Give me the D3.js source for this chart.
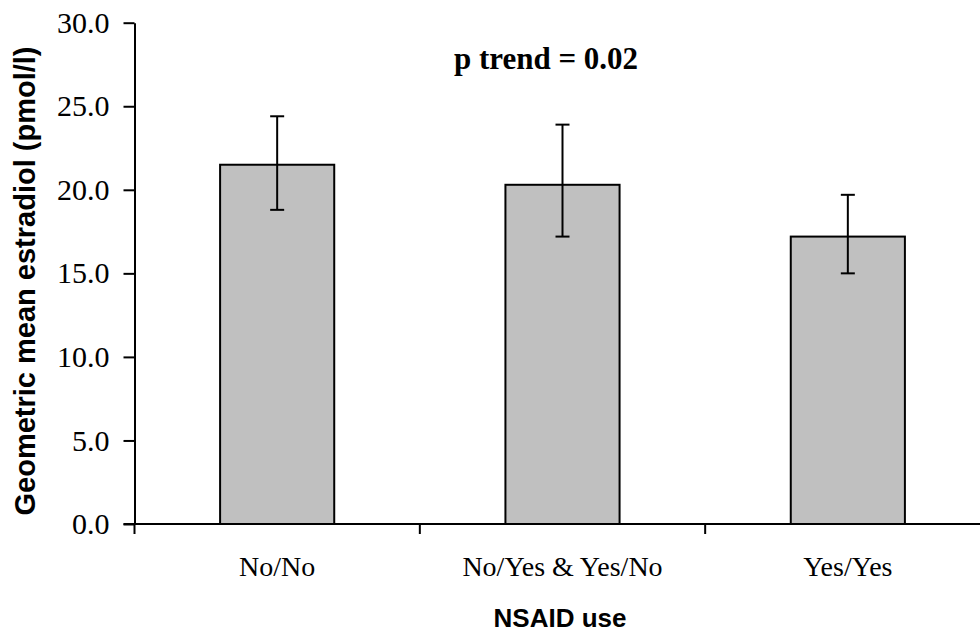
<!DOCTYPE html>
<html>
<head>
<meta charset="utf-8">
<script src="https://cdn.jsdelivr.net/npm/d3@7"></script>
<style>
  html, body { margin: 0; padding: 0; background: #fff; }
  svg { display: block; }
  .serif { font-family: 'Liberation Serif', 'Times New Roman', serif; }
  .sans  { font-family: 'Liberation Sans', Arial, sans-serif; }
</style>
</head>
<body>
<svg id="chart" width="980" height="633"></svg>
<script>
// Geometric mean estradiol by NSAID use, with 95% confidence limits
const categories = ["No/No", "No/Yes & Yes/No", "Yes/Yes"];
const means      = [21.5, 20.3, 17.2];
const lower      = [18.8, 17.2, 15.0];
const upper      = [24.4, 23.9, 19.7];
const yTicks     = [0, 5, 10, 15, 20, 25, 30];
const trendLabel = "p trend = 0.02";
const xTitle     = "NSAID use";
const yTitle     = "Geometric mean estradiol (pmol/l)";

const data = categories.map((c, i) => ({ c, m: means[i], lo: lower[i], hi: upper[i] }));

const svg = d3.select("#chart");

const plot = { left: 134.5, right: 990.5, top: 22.7, bottom: 524 };

const x = d3.scaleBand()
  .domain(categories)
  .range([plot.left, plot.right])
  .paddingInner(0.6)
  .paddingOuter(0.3);

const y = d3.scaleLinear().domain([0, 30]).range([plot.bottom, plot.top]);

// Bars
svg.append("g").selectAll("rect")
  .data(data)
  .join("rect")
  .attr("x", d => x(d.c))
  .attr("y", d => y(d.m))
  .attr("width", x.bandwidth())
  .attr("height", d => y(0) - y(d.m))
  .attr("fill", "#c0c0c0")
  .attr("stroke", "#000")
  .attr("stroke-width", 2);

// Error bars
const capHalf = 7;
const cx = d => x(d.c) + x.bandwidth() / 2;
const eb = svg.append("g").attr("stroke", "#000").attr("stroke-width", 2);
eb.selectAll("line.v").data(data).join("line")
  .attr("class", "v")
  .attr("x1", cx).attr("x2", cx)
  .attr("y1", d => y(d.lo))
  .attr("y2", d => y(d.hi));
eb.selectAll("line.hi").data(data).join("line")
  .attr("class", "hi")
  .attr("x1", d => cx(d) - capHalf)
  .attr("x2", d => cx(d) + capHalf)
  .attr("y1", d => y(d.hi))
  .attr("y2", d => y(d.hi));
eb.selectAll("line.lo").data(data).join("line")
  .attr("class", "lo")
  .attr("x1", d => cx(d) - capHalf)
  .attr("x2", d => cx(d) + capHalf)
  .attr("y1", d => y(d.lo))
  .attr("y2", d => y(d.lo));

// Y axis
const yAxis = svg.append("g")
  .attr("transform", `translate(${plot.left},0)`)
  .call(d3.axisLeft(y).tickValues(yTicks).tickFormat(d3.format(".1f")).tickSize(11).tickSizeOuter(0).tickPadding(14));
yAxis.attr("font-family", null).attr("font-size", null);
yAxis.select(".domain").attr("stroke", "#000").attr("stroke-width", 2);
yAxis.selectAll(".tick line").attr("stroke", "#000").attr("stroke-width", 2);
yAxis.selectAll(".tick text")
  .attr("class", "serif")
  .style("font-size", "30px")
  .attr("fill", "#000");

// X axis: baseline with ticks at the category boundaries
const step = x.step();
const bounds = d3.range(categories.length + 1).map(i => x.range()[0] + i * step);
const xa = svg.append("g").attr("stroke", "#000").attr("stroke-width", 2);
xa.append("line")
  .attr("x1", plot.left - 11).attr("x2", plot.right)
  .attr("y1", y(0)).attr("y2", y(0));
xa.selectAll("line.tick").data(bounds).join("line")
  .attr("class", "tick")
  .attr("x1", d => d).attr("x2", d => d)
  .attr("y1", y(0)).attr("y2", y(0) + 10);

svg.append("g").selectAll("text")
  .data(categories)
  .join("text")
  .attr("class", "serif")
  .attr("x", d => x(d) + x.bandwidth() / 2)
  .attr("y", 576)
  .attr("text-anchor", "middle")
  .style("font-size", "28px")
  .attr("fill", "#000")
  .text(d => d);

// Titles
svg.append("text")
  .attr("class", "sans")
  .attr("x", 560).attr("y", 627)
  .attr("text-anchor", "middle")
  .style("font-weight", "bold")
  .style("font-size", "26px")
  .text(xTitle);

svg.append("text")
  .attr("class", "sans")
  .attr("transform", "translate(35,281) rotate(-90)")
  .attr("text-anchor", "middle")
  .style("font-weight", "bold")
  .style("font-size", "29px")
  .text(yTitle);

svg.append("text")
  .attr("class", "serif")
  .attr("x", 546).attr("y", 69)
  .attr("text-anchor", "middle")
  .style("font-weight", "bold")
  .style("font-size", "31px")
  .text(trendLabel);
</script>
</body>
</html>
